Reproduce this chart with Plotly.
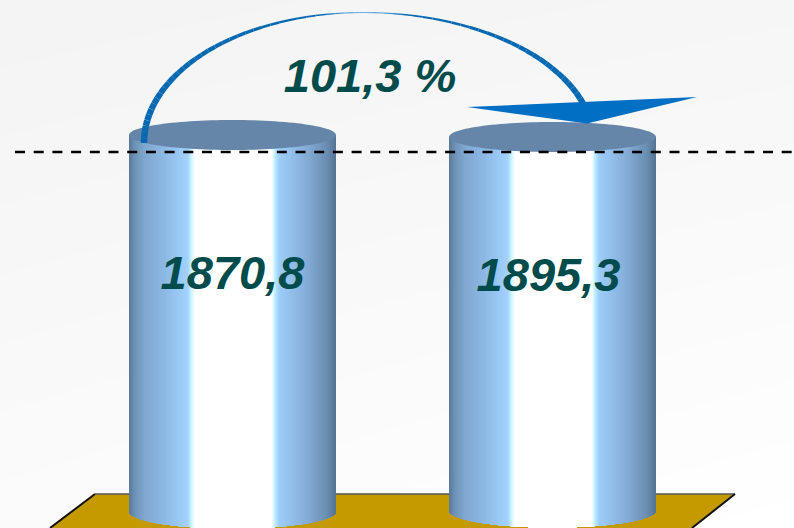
import numpy as np
import plotly.graph_objects as go

# Data
values = [1870.8, 1895.3]
value_labels = ["1870,8", "1895,3"]
ratio_label = "101,3 %"

# Picture geometry (pixels of the 794x528 slide)
W, H = 794, 528
cyl_left = [129, 449]
cyl_right = [336, 656]
cyl_top = [135, 137]
cyl_base = [512, 511]
top_ry = 15
base_ry = 17
label_x = [232.5, 548.5]
label_y = [277, 279]

stops = [(0, "#587898"), (.03, "#6F93B8"), (.08, "#80A8D0"), (.17, "#8CB8E4"),
         (.285, "#A2D2FF"), (.30, "#C8F4FF"), (.32, "#FFFFFF"), (.69, "#FFFFFF"),
         (.705, "#BCEEFF"), (.725, "#9DCDFB"), (.85, "#86AFD8"), (.95, "#6C90B4"), (1, "#557392")]

fig = go.Figure()

# Background: soft grey fading to white towards the lower right
fig.add_trace(go.Heatmap(x=[0, W], y=[0, H], z=[[0.955, 0.965], [0.985, 1.0]], zmin=0, zmax=1,
                         zsmooth="best", showscale=False, hoverinfo="skip",
                         colorscale=[[0, "#000000"], [1, "#FFFFFF"]]))

# Gold platform
px = [95, 735, 692, 50]
py = [494, 494, 528, 528]
fig.add_trace(go.Scatter(x=px, y=py, fill="toself", fillcolor="#C49A00", mode="none", hoverinfo="skip"))
fig.add_trace(go.Scatter(x=[50, 95], y=[528, 494], mode="lines", line=dict(color="#111111", width=2), hoverinfo="skip"))
fig.add_trace(go.Scatter(x=[95, 735], y=[494, 494], mode="lines", line=dict(color="#555555", width=1.5), hoverinfo="skip"))
fig.add_trace(go.Scatter(x=[735, 692], y=[494, 528], mode="lines", line=dict(color="#111111", width=2), hoverinfo="skip"))

# Cylinder bodies on an overlaying pair of axes
for left, right, top, base in zip(cyl_left, cyl_right, cyl_top, cyl_base):
    xs = np.arange(left, right) + 0.5
    ys = np.arange(top, H + 1) + 0.5
    t = (xs - left) / (right - left)
    cx, a = (left + right) / 2, (right - left) / 2
    limit = base + base_ry * np.sqrt(np.clip(1 - ((xs - cx) / a) ** 2, 0, 1))
    z = np.tile(t, (len(ys), 1)).astype(float)
    z[ys[:, None] > limit[None, :]] = np.nan
    fig.add_trace(go.Heatmap(x=xs, y=ys, z=z, zmin=0, zmax=1, showscale=False, hoverinfo="skip",
                             colorscale=[[s, c] for s, c in stops], xaxis="x2", yaxis="y2"))

# Cylinder top ellipses
theta = np.linspace(0, 2 * np.pi, 121)
for left, right, top in zip(cyl_left, cyl_right, cyl_top):
    cx, a = (left + right) / 2, (right - left) / 2
    fig.add_trace(go.Scatter(x=cx + a * np.cos(theta), y=top + top_ry * np.sin(theta), fill="toself",
                             fillcolor="#6585A9", mode="none", hoverinfo="skip", xaxis="x2", yaxis="y2"))

# Dashed reference line
fig.add_trace(go.Scatter(x=[15, W], y=[152, 152], mode="lines", hoverinfo="skip", xaxis="x2", yaxis="y2",
                         line=dict(color="#000000", width=2.4, dash="10px,8.7px")))

# Tapered arc from the first cylinder to the arrow head
arc_cx, arc_top, arc_base = 363, 12.5, 143
n = 72
phi = np.linspace(0, np.pi, n + 1)
arc_x, arc_y = [], []
for p in phi:
    c = np.cos(p)
    a = 219 if c > 0 else 231
    arc_x.append(arc_cx - a * c)
    arc_y.append(arc_base - (arc_base - arc_top) * np.sin(p))
arc_x, arc_y = np.array(arc_x), np.array(arc_y)
for i in range(n):
    if arc_x[i] > arc_cx and arc_y[i] > 108:
        break
    s = abs(np.cos((phi[i] + phi[i + 1]) / 2))
    width = 1.0 + 5.5 * s ** 1.4
    mix = min(1, s / 0.2)
    col = f"rgb({int(130 - 125 * mix)},{int(185 - 80 * mix)},{int(232 - 55 * mix)})"
    fig.add_trace(go.Scatter(x=arc_x[i:i + 2], y=arc_y[i:i + 2], mode="lines", hoverinfo="skip",
                             line=dict(color=col, width=width), xaxis="x2", yaxis="y2"))

# Arrow head
fig.add_trace(go.Scatter(x=[467, 697, 587], y=[107, 97, 123.5], fill="toself", fillcolor="#006FC4",
                         mode="none", hoverinfo="skip", xaxis="x2", yaxis="y2"))

# Labels
font = dict(family="Liberation Sans", size=47, color="#004B4B", weight="bold", style="italic")
fig.add_trace(go.Scatter(x=label_x, y=label_y, text=value_labels,
                         customdata=values, mode="text", textposition="middle center", textfont=font,
                         hoverinfo="skip", xaxis="x2", yaxis="y2"))
fig.add_trace(go.Scatter(x=[370], y=[80], text=[ratio_label], mode="text", textposition="middle center",
                         textfont=font, hoverinfo="skip", xaxis="x2", yaxis="y2"))

axis = dict(visible=False, fixedrange=True)
fig.update_layout(
    width=W, height=H, margin=dict(l=0, r=0, t=0, b=0), showlegend=False,
    paper_bgcolor="#FFFFFF", plot_bgcolor="rgba(0,0,0,0)",
    xaxis=dict(range=[0, W], **axis), yaxis=dict(range=[H, 0], **axis),
    xaxis2=dict(range=[0, W], overlaying="x", **axis), yaxis2=dict(range=[H, 0], overlaying="y", **axis),
)
fig.write_html("out.html", config=dict(displayModeBar=False),
               post_script="document.body.style.margin='0';document.body.style.overflow='hidden';")
